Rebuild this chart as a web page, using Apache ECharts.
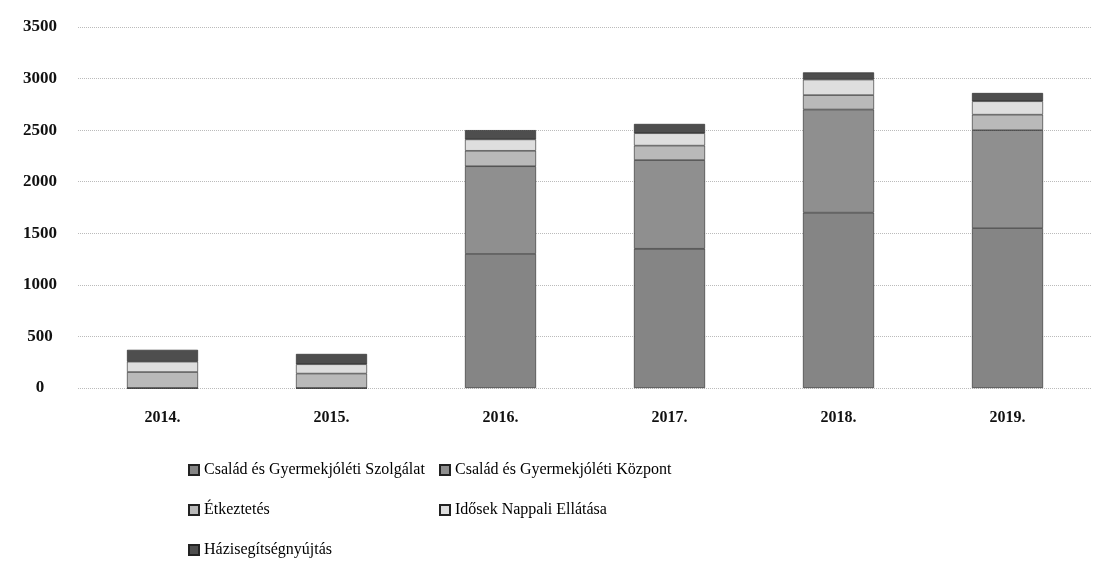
<!DOCTYPE html>
<html><head><meta charset="utf-8">
<script src="https://cdn.jsdelivr.net/npm/echarts@6/dist/echarts.min.js"></script>
<style>html,body{margin:0;padding:0;background:#fff}#c{width:1095px;height:570px}</style>
</head><body><div id="c"></div>
<script>
const categories = ['2014.', '2015.', '2016.', '2017.', '2018.', '2019.'];
const seriesNames = ['Család és Gyermekjóléti Szolgálat', 'Család és Gyermekjóléti Központ', 'Étkeztetés', 'Idősek Nappali Ellátása', 'Házisegítségnyújtás'];
const szolgalat = [0, 0, 1300, 1350, 1700, 1550];
const kozpont = [0, 0, 850, 860, 1000, 950];
const etkeztetes = [155, 140, 150, 140, 140, 150];
const idosek = [100, 90, 110, 120, 150, 130];
const hazi = [115, 100, 90, 90, 70, 80];
const yTicks = [0, 500, 1000, 1500, 2000, 2500, 3000, 3500];

const values = [szolgalat, kozpont, etkeztetes, idosek, hazi];
const colors = ['#858585', '#8f8f8f', '#b9b9b9', '#dedede', '#4e4e4e'];
const legendPos = [[183, 457], [434, 457], [183, 497], [434, 497], [183, 537]];
const font = '"Liberation Serif", "DejaVu Serif", serif';

const chart = echarts.init(document.getElementById('c'));
chart.setOption({
  animation: false,
  grid: { left: 78, right: 3, top: 27, bottom: 182, containLabel: false },
  legend: seriesNames.map((n, i) => ({
    data: [n], left: legendPos[i][0], top: legendPos[i][1],
    icon: 'rect', itemWidth: 10, itemHeight: 10, itemGap: 4,
    textStyle: { fontFamily: font, fontSize: 16, color: '#000' }
  })),
  xAxis: {
    type: 'category', data: categories,
    axisLine: { show: false }, axisTick: { show: false },
    axisLabel: { fontFamily: font, fontSize: 16, fontWeight: 'bold', color: '#111', margin: 22 }
  },
  yAxis: {
    type: 'value', min: 0, max: 3500, interval: 500,
    axisLine: { show: false }, axisTick: { show: false },
    axisLabel: { fontFamily: font, fontSize: 17, fontWeight: 'bold', color: '#111', margin: 38, align: 'center',
      formatter: v => yTicks.includes(v) ? String(v) : '' },
    splitLine: { lineStyle: { type: 'dotted', color: '#bbb', width: 1 } }
  },
  series: seriesNames.map((n, i) => ({
    name: n, type: 'bar', stack: 'total', data: values[i], barWidth: '42%',
    itemStyle: { color: colors[i], borderColor: '#222', borderWidth: 0.6 }
  }))
});
</script></body></html>
